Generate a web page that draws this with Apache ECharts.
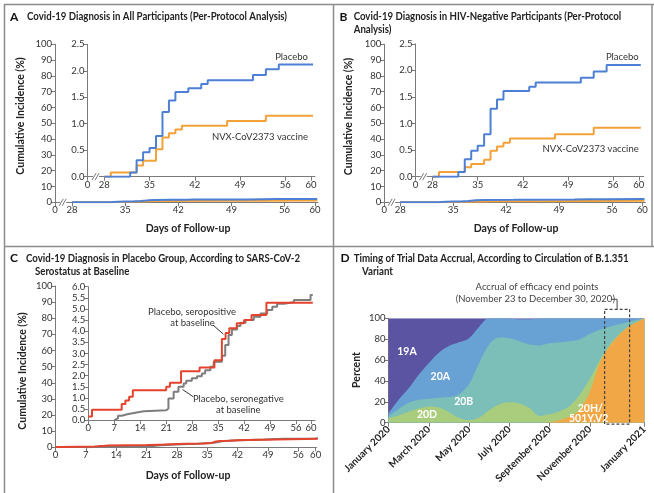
<!DOCTYPE html>
<html><head><meta charset="utf-8">
<script src="https://cdn.jsdelivr.net/npm/echarts@6/dist/echarts.min.js"></script>
<style>html,body{margin:0;padding:0;background:#fff}#c{width:654px;height:493px}</style>
</head><body><div id="c"></div>
<script>
// ---------- DATA ----------
// Panel A: all participants (day, cumulative incidence %)
const placeboA = [[28,0],[32,0.08],[33,0.31],[34,0.46],[35,0.54],[36,0.77],[37,1.22],[38,1.44],[39,1.60],[41,1.67],[43,1.75],[44,1.82],[51,1.92],[53,2.03],[55,2.12],[60.3,2.12]];
const vaccineA = [[28,0],[29,0.08],[33,0.21],[34,0.30],[36,0.52],[37,0.74],[38,0.82],[39,0.89],[40,0.96],[47,1.05],[53,1.15],[60.3,1.15]];
// Panel B: HIV-negative participants
const placeboB = [[28,0],[32,0.09],[33,0.33],[34,0.49],[35,0.58],[36,0.80],[37,1.28],[38,1.45],[39,1.61],[43,1.69],[44,1.77],[51,1.86],[53,1.98],[55,2.10],[60.3,2.10]];
const vaccineB = [[28,0],[29,0.09],[33,0.18],[34,0.24],[36,0.32],[37,0.49],[38,0.57],[39,0.64],[40,0.72],[47,0.80],[53,0.92],[60.3,0.92]];
// Panel C: placebo group by baseline serostatus
const seropositive = [[0,0.17],[1,0.47],[9,0.73],[10,0.88],[11,1.05],[12,1.35],[21,1.5],[22,1.68],[25,2.2],[30,2.37],[34,2.7],[36,3.65],[37,3.92],[38,4.13],[40,4.36],[42,4.5],[44,4.73],[48,5.28],[60.5,5.28]];
const seronegative = [[7,0],[7.5,0.08],[8,0.2],[9,0.27],[10.5,0.35],[13,0.4],[15,0.45],[21,0.53],[21.6,0.98],[23,1.28],[24.3,1.5],[25.7,1.65],[26.4,1.77],[27.9,1.88],[29.3,1.98],[30.6,2.1],[31.5,2.25],[32.9,2.4],[33.8,2.63],[36,2.9],[36.9,3.38],[37.8,3.83],[38.7,4.08],[40.1,4.23],[41,4.38],[42.4,4.5],[44.6,4.65],[46.4,4.8],[48.2,4.95],[49.6,5.1],[50.9,5.23],[52.7,5.3],[55.4,5.4],[59.9,5.63],[60.5,5.63]];
// Tick labels
const brokenDayTicks = [28,35,42,49,56,60];
const dayTicks = [0,7,14,21,28,35,42,49,56,60];
// Panel D: variant shares in percent (months since January 2020)
const monthPts = [0,0.5,1,1.5,2,2.5,3,3.5,4,4.5,5,5.5,6,6.5,7,7.5,8,8.5,9,9.5,10,10.5,11,11.5,12,12.5,12.7];
const v20H = [0,0,0,0,0,0,0,0,0,0,0,0,0,0,0,0,0.5,2.5,6,13,30,58,74,85,93,98,100];
const v20D = [4.5,7,10.5,13.5,15.5,14.5,10,4.5,2.5,5,12,17.5,19.5,18.5,14,6.5,7.5,8.5,10,14,12,2,1,0.5,0.2,0,0];
const v20B = [2,6,8.5,8.5,7.5,9.5,14.5,22.5,34.5,52,63,64,61.5,59.5,61,67.5,68,66,62,53,43,29,17,9,3.8,1,0];
const v20A = [2.5,9,14,24,34,43,49,50,44,35,25,18.5,19,21,24,26,24,23,22,20,15,11,8,5.5,3,1,0];
const v19A = [91,78,67,54,43,33,26.5,23,19,8,0,0,0,1,1,0,0,0,0,0,0,0,0,0,0,0,0];
const monthTickVals = [0,2,4,6,8,10,12.7];
const monthTickLabels = ['January 2020','March 2020','May 2020','July 2020','September 2020','November 2020','January 2021'];
const accrualWindow = [10.73, 11.97]; // Nov 23 – Dec 30, 2020

(function () {
// ---------- STYLE ----------
const FONT = 'Lato, "Open Sans", sans-serif';
const AX = '#7a7a7a', TXT = '#333';
const BLUE = '#4d80d4', ORANGE = '#f3a23a', RED = '#e4432d', GRAY = '#7d7d7d';
const C19A = '#5b54a3', C20A = '#68a1d3', C20B = '#7cbfb8', C20D = '#a9cd7c', C20H = '#f2a747';

const chart = echarts.init(document.getElementById('c'), null, {renderer: 'canvas', width: 654, height: 493});

function grid(l, t, w, h) { return {left: l, top: t, width: w, height: h, containLabel: false}; }
const grids = [
  grid(55, 44.3, 263, 158),      // A outer
  grid(87.5, 44.3, 227.5, 132.4),// A inner
  grid(384.3, 44.3, 261, 158),   // B outer
  grid(415.5, 43.8, 228.2, 132.9),// B inner
  grid(55.5, 286, 261, 161.3),   // C outer
  grid(88.3, 286.7, 226.7, 133.5),// C inner
  grid(388.5, 318.3, 255.8, 104.4) // D
];
const lbl = {color: TXT, fontSize: 9.5, fontFamily: FONT, margin: 3};
function xBroken(gi, min, max) {
  const cv = [min].concat(brokenDayTicks);
  return {type: 'value', gridIndex: gi, min, max,
    axisLine: {lineStyle: {color: AX, width: 1}}, splitLine: {show: false},
    axisTick: {customValues: cv, length: 4, lineStyle: {color: AX}},
    axisLabel: Object.assign({}, lbl, {customValues: cv, formatter: v => v < 27 ? '0' : String(v)})};
}
function xDays(gi, max) {
  return {type: 'value', gridIndex: gi, min: 0, max,
    axisLine: {lineStyle: {color: AX, width: 1}}, splitLine: {show: false},
    axisTick: {customValues: dayTicks, length: 4, lineStyle: {color: AX}},
    axisLabel: Object.assign({}, lbl, {customValues: dayTicks})};
}
function yAx(gi, max, interval, dec) {
  return {type: 'value', gridIndex: gi, min: 0, max, interval,
    axisLine: {show: true, lineStyle: {color: AX, width: 1}}, splitLine: {show: false},
    axisTick: {show: true, length: 4, lineStyle: {color: AX}},
    axisLabel: Object.assign({}, lbl, {formatter: v => dec ? v.toFixed(1) : String(v)})};
}
const xAxes = [
  xBroken(0, 25.75, 60.4), xBroken(1, 25.4, 60.6),
  xBroken(2, 25.9, 60.4), xBroken(3, 25.36, 60.75),
  xDays(4, 60.2), xDays(5, 61.1),
  {type: 'value', gridIndex: 6, min: 0, max: 12.7,
   axisLine: {lineStyle: {color: AX, width: 1}}, splitLine: {show: false},
   axisTick: {customValues: monthTickVals, length: 4, lineStyle: {color: AX}},
   axisLabel: {customValues: monthTickVals, rotate: 45, color: '#222', fontSize: 10, fontWeight: 'bold', fontFamily: FONT, margin: 5,
     formatter: v => monthTickLabels[monthTickVals.indexOf(v)]}}
];
const yAxes = [
  yAx(0, 100, 10, false), yAx(1, 2.5, 0.5, true),
  yAx(2, 100, 10, false), yAx(3, 2.5, 0.5, true),
  yAx(4, 100, 10, false), yAx(5, 6, 0.5, true),
  yAx(6, 100, 20, false)
];
function stepS(data, color, idx, w) {
  return {type: 'line', xAxisIndex: idx, yAxisIndex: idx, data, step: 'end', symbol: 'none', silent: true,
    lineStyle: {color, width: w}, itemStyle: {color}};
}
const series = [
  stepS(vaccineA, ORANGE, 0, 2), stepS(placeboA, BLUE, 0, 2),
  stepS(vaccineA, ORANGE, 1, 2), stepS(placeboA, BLUE, 1, 2),
  stepS(vaccineB, ORANGE, 2, 2), stepS(placeboB, BLUE, 2, 2),
  stepS(vaccineB, ORANGE, 3, 2), stepS(placeboB, BLUE, 3, 2),
  stepS(seronegative, GRAY, 4, 2), stepS(seropositive, RED, 4, 2),
  stepS(seronegative, GRAY, 5, 2), stepS(seropositive, RED, 5, 2)
];
// Stacked areas: cumulative tops (bottom layer first), painted from the top layer down
const layers = [['20H', v20H, C20H], ['20D', v20D, C20D], ['20B', v20B, C20B], ['20A', v20A, C20A], ['19A', v19A, C19A]];
const running = monthPts.map(() => 0);
const tops = layers.map(([name, vals, col]) => {
  vals.forEach((v, i) => { running[i] += v; });
  return {name, col, data: monthPts.map((m, i) => [m, running[i]])};
});
tops.slice().reverse().forEach(L => {
  series.push({type: 'line', name: L.name, xAxisIndex: 6, yAxisIndex: 6, smooth: 0.35, symbol: 'none', silent: true,
    data: L.data, lineStyle: {width: 0}, areaStyle: {color: L.col, opacity: 1, origin: 'start'}, itemStyle: {color: L.col}});
});

chart.setOption({animation: false, backgroundColor: '#fff', grid: grids, xAxis: xAxes, yAxis: yAxes, series});

// ---------- ANNOTATIONS ----------
const mctx = document.createElement('canvas').getContext('2d');
function fitScale(text, font, target) { mctx.font = font; return target / mctx.measureText(text).width; }
function txt(text, x, y, o) {
  o = o || {};
  const st = {text, fill: o.fill || TXT, fontSize: o.size || 9.5, fontFamily: FONT, fontWeight: o.weight || 'normal',
    align: o.align || 'left', textAlign: o.align || 'left', verticalAlign: 'middle', textVerticalAlign: 'middle'};
  const el = {type: 'text', x, y, style: st, silent: true, z: 100};
  if (o.rot) el.rotation = o.rot;
  if (o.sx) el.scaleX = o.sx;
  return el;
}
function line(x1, y1, x2, y2, col, w, dash) {
  return {type: 'line', shape: {x1, y1, x2, y2}, style: {stroke: col, lineWidth: w || 1, lineDash: dash || null}, silent: true, z: 100};
}
const g = [];
const FR = '#8c8c8c';
g.push(line(4, 4.5, 654, 4.5, FR, 1.5), line(4.5, 4, 4.5, 493, FR, 1.5), line(652, 4, 652, 246.5, FR, 1.5),
       line(4, 246.5, 654, 246.5, FR, 1.5), line(333.5, 4, 333.5, 493, FR, 1.5));
const TF = 'bold 10.5px ' + FONT;
function title(letter, lx, tx, y, l1, l2, l2x, target) {
  const s = fitScale(l1, TF, target);
  g.push(txt(letter, lx, y, {size: 12, weight: 'bold', fill: '#111'}));
  g.push(txt(l1, tx, y, {size: 10.5, weight: 'bold', fill: '#222', sx: s}));
  if (l2) g.push(txt(l2, l2x, y + 13, {size: 10.5, weight: 'bold', fill: '#222', sx: s}));
}
title('A', 10, 27, 17, 'Covid-19 Diagnosis in All Participants (Per-Protocol Analysis)', null, 0, 260);
title('B', 339.5, 353.7, 17, 'Covid-19 Diagnosis in HIV-Negative Participants (Per-Protocol', 'Analysis)', 353.7, 267.5);
title('C', 10, 26, 258.5, 'Covid-19 Diagnosis in Placebo Group, According to SARS-CoV-2', 'Serostatus at Baseline', 35, 274);
title('D', 340.5, 353.7, 258.5, 'Timing of Trial Data Accrual, According to Circulation of B.1.351', 'Variant', 362, 275);
const AN = {size: 10.5, weight: 'bold', fill: '#222', align: 'center'};
g.push(txt('Cumulative Incidence (%)', 20.7, 116, Object.assign({rot: Math.PI / 2}, AN)));
g.push(txt('Cumulative Incidence (%)', 348.7, 116.5, Object.assign({rot: Math.PI / 2}, AN)));
g.push(txt('Cumulative Incidence (%)', 22.5, 371, Object.assign({rot: Math.PI / 2}, AN)));
g.push(txt('Percent', 356.3, 370, Object.assign({rot: Math.PI / 2}, AN)));
g.push(txt('Days of Follow-up', 188, 229, AN));
g.push(txt('Days of Follow-up', 516, 229, AN));
g.push(txt('Days of Follow-up', 188, 476, AN));
g.push(txt('Placebo', 308, 57.3, {align: 'right'}));
g.push(txt('NVX-CoV2373 vaccine', 308, 136.7, {align: 'right'}));
g.push(txt('Placebo', 638.7, 57.3, {align: 'right'}));
g.push(txt('NVX-CoV2373 vaccine', 638.7, 149, {align: 'right'}));
g.push(txt('Placebo, seropositive', 192, 311.7, {align: 'center'}));
g.push(txt('at baseline', 192.5, 322.7, {align: 'center'}));
g.push(txt('Placebo, seronegative', 238.3, 399.3, {align: 'center'}));
g.push(txt('at baseline', 238.3, 410.3, {align: 'center'}));
function px(idx, pt) { return chart.convertToPixel({xAxisIndex: idx, yAxisIndex: idx}, pt); }
let p1 = px(5, [33.6, 4.28]), p2 = px(5, [36.4, 3.87]);
g.push(line(p1[0], p1[1], p2[0], p2[1], '#333', 1));
p1 = px(5, [25.4, 1.38]); p2 = px(5, [28.3, 1.05]);
g.push(line(p1[0], p1[1], p2[0], p2[1], '#333', 1));
function brk(idx, xv) {
  const p = px(idx, [xv, 0]);
  g.push({type: 'rect', shape: {x: p[0] - 3.5, y: p[1] - 2, width: 6, height: 4}, style: {fill: '#fff'}, silent: true, z: 99});
  g.push(line(p[0] - 4.5, p[1] + 3.5, p[0] - 0.5, p[1] - 3.5, AX, 1));
  g.push(line(p[0] - 1.5, p[1] + 3.5, p[0] + 2.5, p[1] - 3.5, AX, 1));
}
brk(0, 26.9); brk(1, 26.8); brk(2, 27.0); brk(3, 26.7);
const WL = {fill: '#fff', weight: 'bold', size: 10.5, align: 'center'};
g.push(txt('19A', 407, 351.7, WL), txt('20A', 440.3, 376.7, WL), txt('20B', 463.7, 401.7, WL), txt('20D', 427, 415, WL),
       txt('20H/', 590.3, 408.3, WL), txt('501Y.V2', 588.7, 418.3, WL));
const b1 = px(6, [accrualWindow[0], 100]), b2 = px(6, [accrualWindow[1], 0]);
const boxTop = b1[1] - 9, boxBot = b2[1] + 1.5;
g.push({type: 'rect', shape: {x: b1[0], y: boxTop, width: b2[0] - b1[0], height: boxBot - boxTop},
  style: {fill: null, stroke: '#444', lineWidth: 1.2, lineDash: [3, 2]}, silent: true, z: 100});
const bc = (b1[0] + b2[0]) / 2;
g.push(line(611, 299.3, bc, 299.3, '#444', 1), line(bc, 299.3, bc, boxTop, '#444', 1));
g.push(txt('Accrual of efficacy end points', 537, 287.3, {align: 'center', fill: '#444'}));
g.push(txt('(November 23 to December 30, 2020)', 535.3, 299.3, {align: 'center', fill: '#444'}));

chart.setOption({graphic: g});
})();
</script></body></html>
